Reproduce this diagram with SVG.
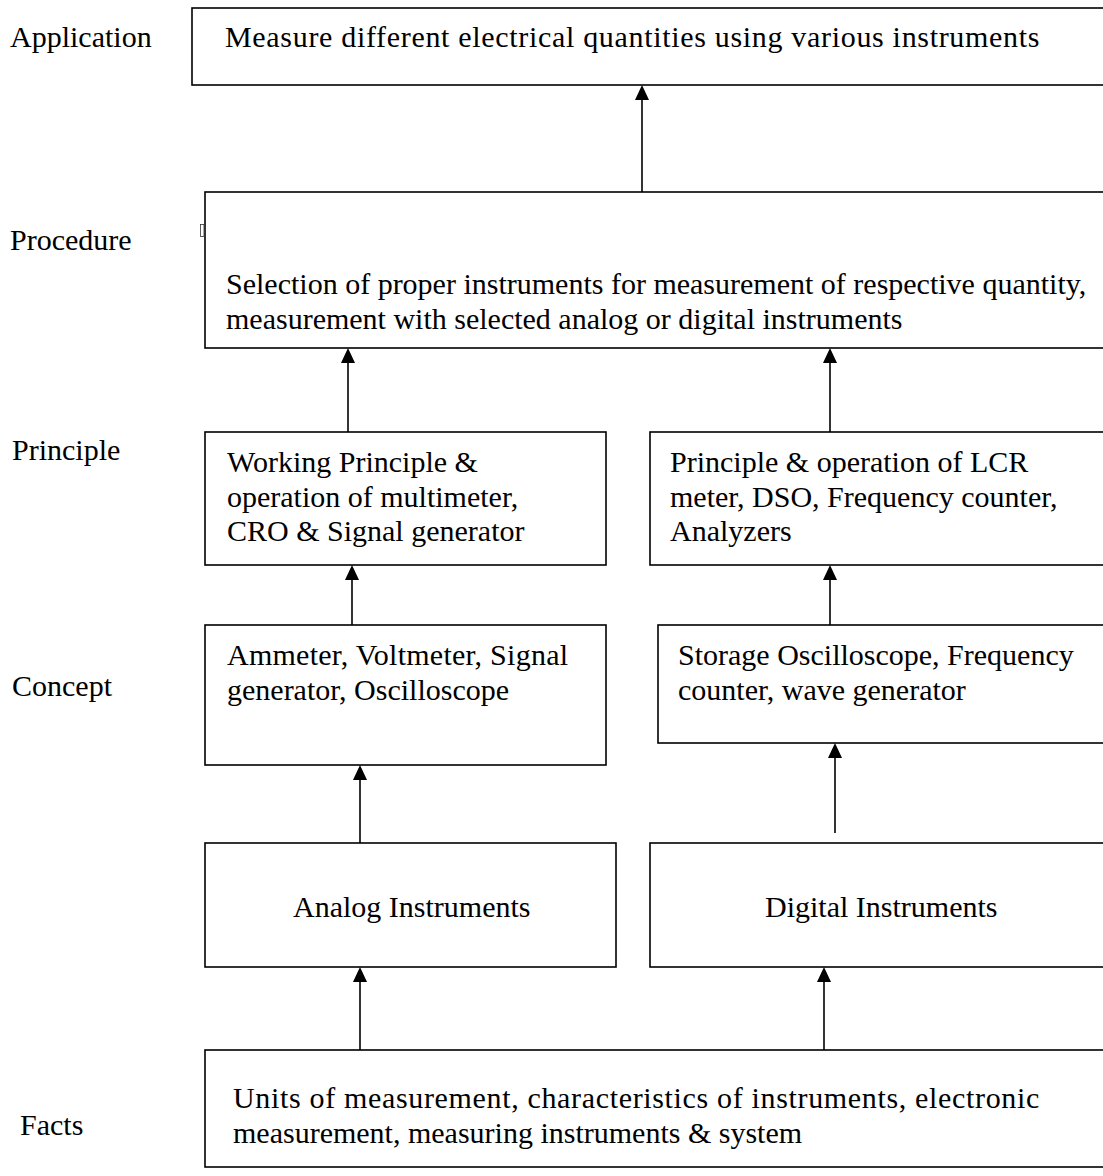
<svg xmlns="http://www.w3.org/2000/svg" width="1103" height="1176" viewBox="0 0 1103 1176">
<style>
.box{fill:#fff;stroke:#000;stroke-width:1.6}
.t{font-family:"Liberation Serif","Times New Roman",serif;font-size:30px;fill:#000}
.c{stroke:#000;stroke-width:1.6;fill:none}
.ah{fill:#000;stroke:none}
</style>
<rect width="1103" height="1176" fill="#fff"/>

<g id="labels">
<text class="t" x="10" y="47">Application</text>
<text class="t" x="10" y="250">Procedure</text>
<text class="t" x="12" y="460">Principle</text>
<text class="t" x="12" y="696">Concept</text>
<text class="t" x="20" y="1135">Facts</text>
</g>

<g id="application">
<rect class="box" x="192" y="8" width="920" height="77"/>
<text class="t" x="225" y="47" letter-spacing="0.68">Measure different electrical quantities using various instruments</text>
</g>

<g id="procedure">
<rect class="box" x="205" y="192" width="907" height="156"/>
<rect x="200.5" y="224.5" width="3.5" height="12" fill="none" stroke="#333" stroke-width="0.8"/>
<text class="t" x="226" y="294">Selection of proper instruments for measurement of respective quantity,</text>
<text class="t" x="226" y="328.5">measurement with selected analog or digital instruments</text>
</g>

<g id="principle-left">
<rect class="box" x="205" y="432" width="401" height="133"/>
<text class="t" x="227" y="472">Working Principle &amp;</text>
<text class="t" x="227" y="506.5">operation of multimeter,</text>
<text class="t" x="227" y="541">CRO &amp; Signal generator</text>
</g>

<g id="principle-right">
<rect class="box" x="650" y="432" width="462" height="133"/>
<text class="t" x="670" y="472">Principle &amp; operation of LCR</text>
<text class="t" x="670" y="506.5">meter, DSO, Frequency counter,</text>
<text class="t" x="670" y="541">Analyzers</text>
</g>

<g id="concept-left">
<rect class="box" x="205" y="625" width="401" height="140"/>
<text class="t" x="227" y="665" letter-spacing="0.25">Ammeter, Voltmeter, Signal</text>
<text class="t" x="227" y="699.5">generator, Oscilloscope</text>
</g>

<g id="concept-right">
<rect class="box" x="658" y="625" width="454" height="118"/>
<text class="t" x="678" y="665">Storage Oscilloscope, Frequency</text>
<text class="t" x="678" y="699.5">counter, wave generator</text>
</g>

<g id="analog">
<rect class="box" x="205" y="843" width="411" height="124"/>
<text class="t" x="293" y="917">Analog Instruments</text>
</g>

<g id="digital">
<rect class="box" x="650" y="843" width="462" height="124"/>
<text class="t" x="765" y="917">Digital Instruments</text>
</g>

<g id="facts">
<rect class="box" x="205" y="1050" width="907" height="117"/>
<text class="t" x="233" y="1108" letter-spacing="0.66">Units of measurement, characteristics of instruments, electronic</text>
<text class="t" x="233" y="1142.5">measurement, measuring instruments &amp; system</text>
</g>

<g id="connectors">
<line class="c" x1="642" y1="192" x2="642" y2="99"/>
<polygon class="ah" points="642,85 649,100 635,100"/>
<line class="c" x1="348" y1="432" x2="348" y2="362"/>
<polygon class="ah" points="348,348 355,363 341,363"/>
<line class="c" x1="830" y1="432" x2="830" y2="362"/>
<polygon class="ah" points="830,348 837,363 823,363"/>
<line class="c" x1="352" y1="625" x2="352" y2="579"/>
<polygon class="ah" points="352,565 359,580 345,580"/>
<line class="c" x1="830" y1="625" x2="830" y2="579"/>
<polygon class="ah" points="830,565 837,580 823,580"/>
<line class="c" x1="360" y1="843" x2="360" y2="779"/>
<polygon class="ah" points="360,765 367,780 353,780"/>
<line class="c" x1="835" y1="833" x2="835" y2="757"/>
<polygon class="ah" points="835,743 842,758 828,758"/>
<line class="c" x1="360" y1="1050" x2="360" y2="981"/>
<polygon class="ah" points="360,967 367,982 353,982"/>
<line class="c" x1="824" y1="1050" x2="824" y2="981"/>
<polygon class="ah" points="824,967 831,982 817,982"/>
</g>
</svg>
